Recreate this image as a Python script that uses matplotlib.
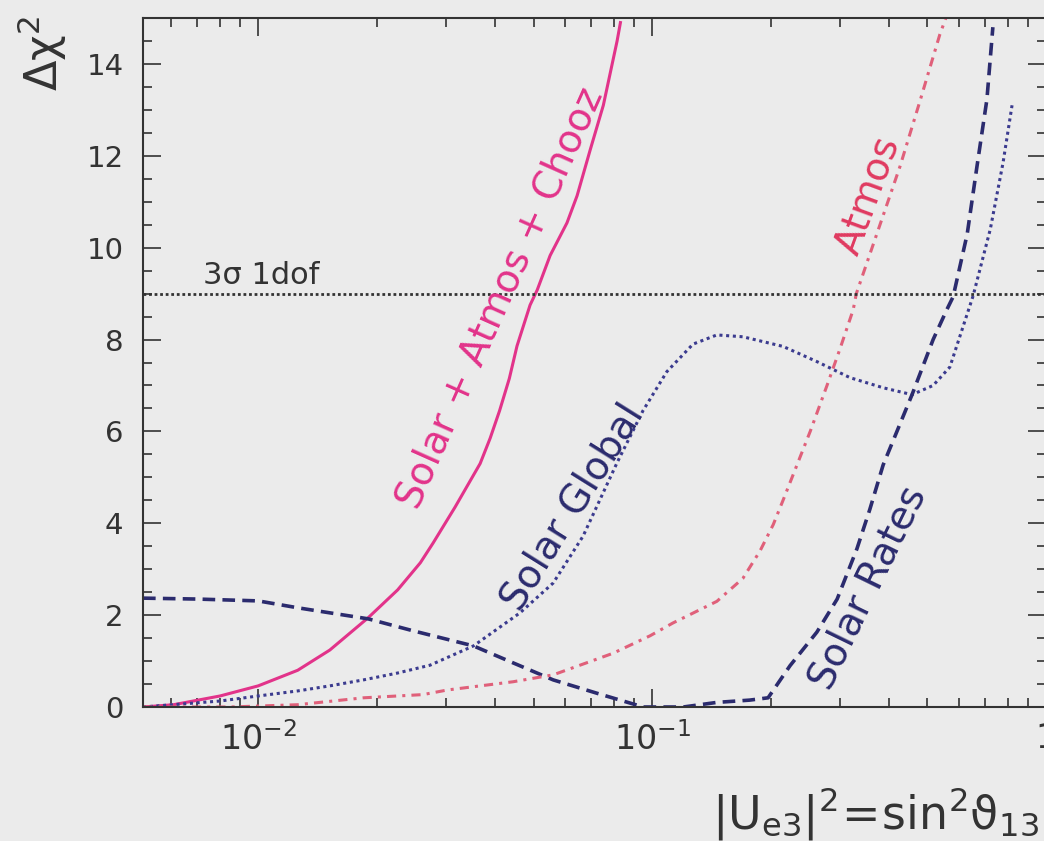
import matplotlib
matplotlib.use('Agg')
import matplotlib.pyplot as plt
from matplotlib.ticker import MultipleLocator, FixedLocator, FixedFormatter

plt.rcParams['font.family'] = ['DejaVu Sans']
plt.rcParams['mathtext.fontset'] = 'dejavusans'
plt.rcParams['mathtext.default'] = 'regular'

# Solar + Atmos + Chooz (solid)
sac_x = [0.0051, 0.0061, 0.008, 0.01, 0.0126, 0.0152, 0.019, 0.0226, 0.0258, 0.0278,
         0.0316, 0.0366, 0.0388, 0.041, 0.0434, 0.0454, 0.049, 0.0511, 0.0551, 0.0608,
         0.0645, 0.0697, 0.0752, 0.0815, 0.0831]
sac_y = [0.0, 0.05, 0.24, 0.46, 0.8, 1.24, 1.94, 2.55, 3.14, 3.57,
         4.35, 5.3, 5.85, 6.45, 7.15, 7.86, 8.75, 9.08, 9.83, 10.54,
         11.13, 12.14, 13.1, 14.5, 14.9]

# Solar Global (dotted)
sg_x = [0.0051, 0.008, 0.01, 0.0126, 0.0152, 0.0185, 0.0226, 0.0273, 0.0352, 0.0462,
        0.0561, 0.0668, 0.0815, 0.0948, 0.109, 0.127, 0.146, 0.170, 0.215, 0.262,
        0.318, 0.386, 0.457, 0.517, 0.570, 0.653, 0.722, 0.778, 0.82]
sg_y = [0.0, 0.13, 0.24, 0.35, 0.46, 0.59, 0.74, 0.91, 1.33, 2.05,
        2.7, 3.72, 5.32, 6.45, 7.3, 7.9, 8.1, 8.06, 7.85, 7.52,
        7.17, 6.95, 6.8, 7.0, 7.4, 8.95, 10.4, 11.85, 13.1]

# Solar Rates (dashed)
sr_x = [0.0051, 0.007, 0.01, 0.0126, 0.0152, 0.019, 0.0247, 0.0352, 0.0444, 0.0561,
        0.0724, 0.095, 0.12, 0.146, 0.177, 0.197, 0.224, 0.262, 0.295, 0.331,
        0.357, 0.386, 0.457, 0.517, 0.56, 0.581, 0.631, 0.668, 0.708, 0.733]
sr_y = [2.37, 2.35, 2.31, 2.16, 2.05, 1.92, 1.66, 1.33, 0.96, 0.59,
        0.3, 0.0, 0.0, 0.1, 0.15, 0.2, 0.9, 1.63, 2.35, 3.44,
        4.3, 5.27, 6.8, 8.0, 8.65, 8.93, 10.3, 11.77, 13.23, 14.8]

# Atmos (dash-dot)
at_x = [0.0051, 0.0085, 0.0126, 0.0185, 0.0262, 0.0302, 0.0444, 0.0561, 0.0796, 0.0988,
        0.113, 0.12, 0.146, 0.170, 0.188, 0.203, 0.215, 0.252, 0.278, 0.300,
        0.324, 0.33, 0.372, 0.426, 0.479, 0.538, 0.557]
at_y = [0.0, 0.0, 0.05, 0.2, 0.27, 0.37, 0.55, 0.7, 1.17, 1.55,
        1.83, 1.94, 2.3, 2.8, 3.4, 3.97, 4.5, 6.0, 7.0, 7.8,
        8.65, 9.0, 10.3, 11.77, 13.2, 14.65, 15.0]

sigma3 = 9.0

xtick_vals = [1e-2, 1e-1, 1.0]
xtick_labels = [r'$10^{-2}$', r'$10^{-1}$', '1']
ytick_vals = [0, 2, 4, 6, 8, 10, 12, 14]
ytick_labels = ['0', '2', '4', '6', '8', '10', '12', '14']

bg = '#ebebeb'
pink = '#e2338a'
red = '#e0607a'
navy = '#3b3b8f'
navy2 = '#2b2b6e'
ink = '#333333'

fig = plt.figure(figsize=(10.44, 8.41), dpi=100, facecolor=bg)
ax = fig.add_axes([143/1044, 1-707/841, (1046-143)/1044, (707-18)/841])
ax.set_facecolor(bg)

ax.plot(sac_x, sac_y, color=pink, lw=2.2)
ax.plot(sg_x, sg_y, color=navy, lw=2.2, linestyle=(0, (1, 1.2)))
ax.plot(sr_x, sr_y, color=navy2, lw=2.6, linestyle=(0, (3.5, 2)))
ax.plot(at_x, at_y, color=red, lw=2.2, linestyle=(0, (3, 2, 1, 2)))
ax.axhline(sigma3, color=ink, lw=2, linestyle=(0, (1, 1)))

ax.set_xscale('log')
ax.set_xlim(0.0051, 1.0)
ax.set_ylim(0, 15)

ax.xaxis.set_major_locator(FixedLocator(xtick_vals))
ax.xaxis.set_major_formatter(FixedFormatter(xtick_labels))
ax.yaxis.set_major_locator(FixedLocator(ytick_vals))
ax.yaxis.set_major_formatter(FixedFormatter(ytick_labels))
ax.yaxis.set_minor_locator(MultipleLocator(0.5))

ax.tick_params(which='both', direction='in', top=True, right=True, width=1.2, color=ink)
ax.tick_params(which='major', length=13)
ax.tick_params(which='minor', length=6.5)
ax.tick_params(axis='y', labelsize=21, pad=14, labelcolor=ink)
ax.tick_params(axis='x', labelsize=24, pad=11, labelcolor=ink)
for s in ax.spines.values():
    s.set_linewidth(1.5)
    s.set_color(ink)

# curve labels
ax.text(0.0411, 8.9, 'Solar + Atmos + Chooz', color=pink, fontsize=28,
        rotation=66, ha='center', va='center', rotation_mode='anchor')
ax.text(0.0627, 4.34, 'Solar Global', color=navy2, fontsize=28,
        rotation=58, ha='center', va='center', rotation_mode='anchor')
ax.text(0.353, 11.15, 'Atmos', color='#e03a60', fontsize=28,
        rotation=70, ha='center', va='center', rotation_mode='anchor')
ax.text(0.353, 2.6, 'Solar Rates', color=navy2, fontsize=28,
        rotation=64, ha='center', va='center', rotation_mode='anchor')
ax.text(0.00725, 9.2, '3σ 1dof', color=ink, fontsize=22, ha='left', va='baseline')

fig.text(42/1044, 1-16/841, r'$\Delta\chi^2$', rotation=90, fontsize=32,
         ha='center', va='top', color=ink)
fig.text(712/1044, 1-828/841, r'$|U_{e3}|^2\!=\!sin^2\vartheta_{13}$', fontsize=33,
         ha='left', va='baseline', color=ink)

fig.savefig('out.png', dpi=100, facecolor=bg)
